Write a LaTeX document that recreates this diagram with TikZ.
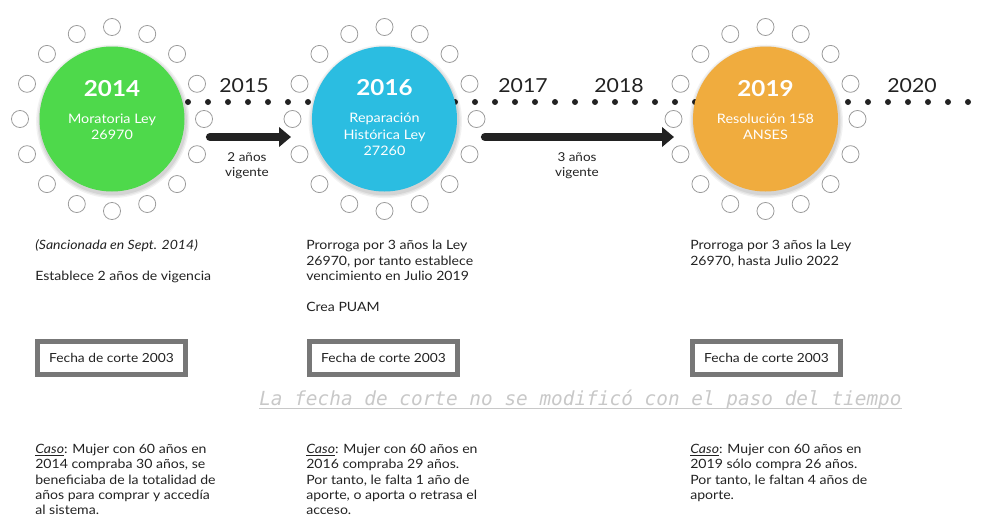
\documentclass[tikz,border=0pt]{standalone}
\usepackage{fontspec}
\setmainfont{Lato}[FakeStretch=1.1]
\newfontfamily\monof{DejaVu Sans Mono}
\usetikzlibrary{arrows.meta}
\definecolor{cgreen}{HTML}{4ED94B}
\definecolor{cblue}{HTML}{2BBDE1}
\definecolor{corange}{HTML}{F0AC3E}
\definecolor{ringc}{HTML}{9A9A9A}
\definecolor{ink}{HTML}{222222}
\definecolor{boxgray}{HTML}{777777}
\definecolor{faint}{HTML}{C8C8C8}
\tikzset{
  bigc/.style={circle, minimum size=108.75pt, inner sep=0pt},
  ringcirc/.style={draw=ringc, line width=0.6pt},
  dotc/.style={fill=ink},
  arr/.style={draw=ink, line width=6.2pt, line cap=round, -{Triangle[length=9pt,width=14.5pt]}},
  yearin/.style={text=white, font=\fontsize{16.5}{18}\selectfont\bfseries},
  circtxt/.style={text=white, font=\fontsize{9.8}{12.2}\selectfont, align=center},
  yearline/.style={text=ink, font=\fontsize{14.5}{17}\selectfont},
  arrlbl/.style={text=ink, font=\fontsize{9.2}{11.3}\selectfont, align=center},
  body/.style={text=ink, font=\fontsize{9.6}{11.5}\selectfont, align=left, anchor=north west, inner sep=0pt},
  cutbox/.style={draw=boxgray, line width=3.75pt, minimum width=111pt, minimum height=24.75pt, inner sep=0pt, text=ink, font=\fontsize{9.4}{11.5}\selectfont},
  note/.style={text=faint, font=\fontsize{14.55}{16}\selectfont\monof\itshape, inner sep=0pt, anchor=base west}
}
\begin{document}
\begin{tikzpicture}[x=0.75pt, y=-0.75pt]
\useasboundingbox (0,0) rectangle (992,518);
% dotted timeline
\foreach \x in {188,208,...,308} \fill[dotc] (\x,102) circle (2.25pt);
\foreach \x in {455,475,...,695} \fill[dotc] (\x,102) circle (2.25pt);
\foreach \x in {848,868,...,968} \fill[dotc] (\x,102) circle (2.25pt);
% circle centres
\coordinate (p1) at (112,119);
\coordinate (p2) at (384.5,119);
\coordinate (p3) at (765.5,119);
% rings
\foreach \p in {p1,p2,p3}{
  \foreach \i in {0,...,15}
    \draw[ringcirc, shift={(\p)}] (\i*22.5:69pt) circle (6.4pt);
}
% shadows
\foreach \p in {p1,p2,p3}{
  \foreach \r/\o in {57.5/0.05,56.5/0.06,55.5/0.07}
    \fill[black, opacity=\o, shift={(\p)}] (0.6pt,-1.8pt) circle (\r pt);
}
% big circles
\node[bigc, fill=cgreen] (c1) at (p1) {};
\node[bigc, fill=cblue] (c2) at (p2) {};
\node[bigc, fill=corange] (c3) at (p3) {};
\node[yearin] (y1) at (112,89) {2014};
\node[circtxt] (t1) at (112,126.5) {Moratoria Ley\\26970};
\node[yearin] (y2) at (384.5,88) {2016};
\node[circtxt] (t2) at (384.5,134.5) {Reparación\\Histórica Ley\\27260};
\node[yearin] (y3) at (765.5,89) {2019};
\node[circtxt] (t3) at (765.5,126.5) {Resolución 158\\ANSES};
% year labels
\node[yearline] (l15) at (244,86) {2015};
\node[yearline] (l17) at (523,86) {2017};
\node[yearline] (l18) at (619,86) {2018};
\node[yearline] (l20) at (912,86) {2020};
% arrows
\coordinate (a1s) at (210,137);
\coordinate (a1e) at (291,137);
\coordinate (a2s) at (485,137);
\coordinate (a2e) at (674,137);
\draw[arr] (a1s) -- (a1e);
\draw[arr] (a2s) -- (a2e);
\node[arrlbl] (g1) at (247,165.5) {2 años\\vigente};
\node[arrlbl] (g2) at (577,165.5) {3 años\\vigente};
% upper text
\node[body] (d1a) at (35,239) {\itshape (Sancionada en Sept. 2014)};
\node[body] (d1b) at (35,271) {Establece 2 años de vigencia};
\node[body] (d2a) at (306,240) {Prorroga por 3 años la Ley\\26970, por tanto establece\\vencimiento en Julio 2019};
\node[body] (d2b) at (306,302) {Crea PUAM};
\node[body] (d3a) at (690,240) {Prorroga por 3 años la Ley\\26970, hasta Julio 2022};
% boxes
\node[cutbox] (b1) at (111.5,358) {Fecha de corte 2003};
\node[cutbox] (b2) at (383.5,358) {Fecha de corte 2003};
\node[cutbox] (b3) at (766.5,358) {Fecha de corte 2003};
% note
\node[note] (nt) at (259,405) {La fecha de corte no se modificó con el paso del tiempo};
\draw[faint, line width=0.8pt] ([yshift=-2.6pt]nt.base west) -- ([yshift=-2.6pt]nt.base east);
% cases
\node[body] (e1) at (35,444) {\underline{\itshape Caso}: Mujer con 60 años en\\2014 compraba 30 años, se\\beneficiaba de la totalidad de\\años para comprar y accedía\\al sistema.};
\node[body] (e2) at (306,444) {\underline{\itshape Caso}: Mujer con 60 años en\\2016 compraba 29 años.\\Por tanto, le falta 1 año de\\aporte, o aporta o retrasa el\\acceso.};
\node[body] (e3) at (690,444) {\underline{\itshape Caso}: Mujer con 60 años en\\2019 sólo compra 26 años.\\Por tanto, le faltan 4 años de\\aporte.};
\end{tikzpicture}
\end{document}
